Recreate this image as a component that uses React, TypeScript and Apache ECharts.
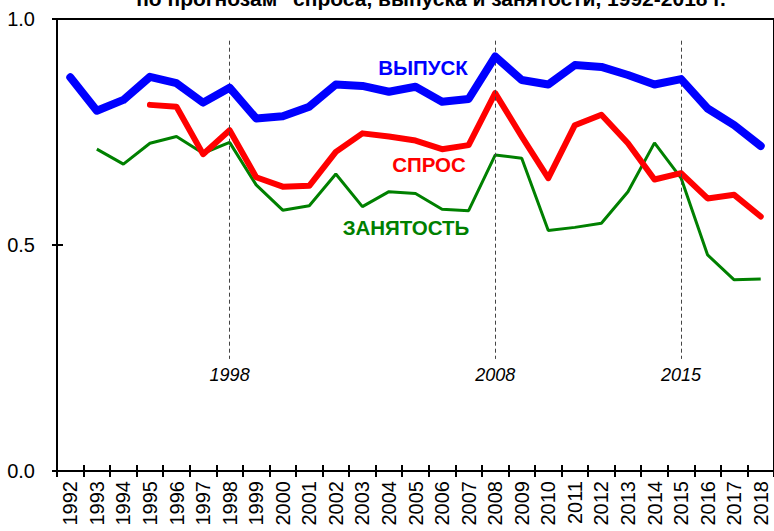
import React, { useEffect, useRef } from "react";
import * as echarts from "echarts";

const years = [
  "1992","1993","1994","1995","1996","1997","1998","1999","2000","2001","2002","2003","2004","2005",
  "2006","2007","2008","2009","2010","2011","2012","2013","2014","2015","2016","2017","2018",
];

const outputSeries = [
  0.871, 0.797, 0.821, 0.872, 0.858, 0.815, 0.848, 0.780, 0.785, 0.806, 0.855, 0.852, 0.839, 0.850,
  0.817, 0.823, 0.917, 0.865, 0.855, 0.898, 0.894, 0.876, 0.855, 0.867, 0.802, 0.765, 0.719,
];

const demandSeries = [
  null, null, null, 0.810, 0.806, 0.701, 0.754, 0.650, 0.629, 0.631, 0.706, 0.747, 0.740, 0.731,
  0.712, 0.721, 0.836, 0.740, 0.648, 0.765, 0.788, 0.725, 0.645, 0.659, 0.603, 0.611, 0.563,
];

const employmentSeries = [
  null, 0.712, 0.679, 0.725, 0.740, 0.703, 0.727, 0.633, 0.577, 0.587, 0.657, 0.585, 0.618, 0.614,
  0.579, 0.576, 0.699, 0.692, 0.532, 0.539, 0.548, 0.618, 0.726, 0.648, 0.478, 0.423, 0.425,
];

const markerYears = ["1998", "2008", "2015"];
const yTicks = [0, 0.5, 1.0];

const titleText = "по прогнозам \"спроса, выпуска и занятости, 1992-2018 г.";
const labelOutput = "ВЫПУСК";
const labelDemand = "СПРОС";
const labelEmployment = "ЗАНЯТОСТЬ";

const FONT = "Arial, 'Liberation Sans', sans-serif";

export default function App() {
  const ref = useRef<HTMLDivElement>(null);
  useEffect(() => {
    if (!ref.current) return;
    const chart = echarts.init(ref.current, null, { renderer: "svg" });
    const markLineData = markerYears.map((y) => [
      { coord: [y, 0.952] },
      { coord: [y, 0.248] },
    ]);
    const markPointData = markerYears.map((y) => ({ coord: [y, 0.213], value: y }));
    chart.setOption({
      animation: false,
      backgroundColor: "#fff",
      textStyle: { fontFamily: FONT },
      grid: {
        left: 57,
        top: 19,
        width: 723,
        height: 452,
        show: true,
        borderColor: "#000",
        borderWidth: 2,
        backgroundColor: "transparent",
      },
      xAxis: [
        {
          type: "category",
          data: years,
          boundaryGap: true,
          axisLine: { lineStyle: { color: "#000", width: 2 } },
          axisTick: { show: true, interval: 0, length: 6, inside: false, lineStyle: { color: "#000", width: 2 } },
          axisLabel: { interval: 0, rotate: 90, fontSize: 20, color: "#000", margin: 10, fontFamily: FONT },
          splitLine: { show: false },
        },
        {
          type: "category",
          data: years,
          position: "bottom",
          boundaryGap: true,
          axisLine: { show: false },
          axisTick: { show: true, interval: 0, length: 6, inside: true, lineStyle: { color: "#000", width: 2 } },
          axisLabel: { show: false },
          splitLine: { show: false },
        },
      ],
      yAxis: [
        {
          type: "value",
          min: 0,
          max: 1,
          interval: 0.5,
          axisLine: { show: true, lineStyle: { color: "#000", width: 2 } },
          axisTick: { show: true, length: 5, inside: false, lineStyle: { color: "#000", width: 2 } },
          axisLabel: {
            fontSize: 20,
            color: "#000",
            margin: 22,
            fontFamily: FONT,
            formatter: (v: number) => (yTicks.includes(v) ? v.toFixed(1) : ""),
          },
          splitLine: { show: false },
        },
        {
          type: "value",
          min: 0,
          max: 1,
          interval: 0.5,
          position: "left",
          axisLine: { show: false },
          axisTick: { show: true, length: 6, inside: true, lineStyle: { color: "#000", width: 2 } },
          axisLabel: { show: false },
          splitLine: { show: false },
        },
      ],
      series: [
        {
          name: labelEmployment,
          type: "line",
          data: employmentSeries,
          showSymbol: false,
          symbol: "none",
          connectNulls: false,
          lineStyle: { color: "#008000", width: 3 },
          z: 3,
          markLine: {
            silent: true,
            symbol: "none",
            label: { show: false },
            lineStyle: { color: "#444", width: 1, type: [4, 3] },
            data: markLineData,
          },
          markPoint: {
            symbol: "circle",
            symbolSize: 0,
            label: {
              show: true,
              position: "inside",
              formatter: (p: any) => p.value,
              fontSize: 18,
              fontStyle: "italic",
              color: "#000",
              fontFamily: FONT,
            },
            data: markPointData,
          },
        },
        {
          name: labelDemand,
          type: "line",
          data: demandSeries,
          showSymbol: false,
          symbol: "none",
          lineStyle: { color: "#ff0000", width: 6, cap: "round", join: "round" },
          z: 4,
        },
        {
          name: labelOutput,
          type: "line",
          data: outputSeries,
          showSymbol: false,
          symbol: "none",
          lineStyle: { color: "#0000ff", width: 8, cap: "round", join: "round" },
          z: 5,
        },
      ],
      graphic: [
        {
          type: "text",
          x: 431,
          y: -2,
          style: {
            text: titleText,
            fontSize: 21,
            fontWeight: "bold",
            fontFamily: FONT,
            fill: "#000",
            textAlign: "center",
            textVerticalAlign: "middle",
          },
        },
        {
          type: "text",
          x: 423,
          y: 67,
          style: {
            text: labelOutput,
            fontSize: 20.5,
            fontWeight: "bold",
            fontFamily: FONT,
            fill: "#0000ff",
            textAlign: "center",
            textVerticalAlign: "middle",
          },
        },
        {
          type: "text",
          x: 429,
          y: 164,
          style: {
            text: labelDemand,
            fontSize: 20.5,
            fontWeight: "bold",
            fontFamily: FONT,
            fill: "#ff0000",
            textAlign: "center",
            textVerticalAlign: "middle",
          },
        },
        {
          type: "text",
          x: 406,
          y: 227,
          style: {
            text: labelEmployment,
            fontSize: 20.5,
            fontWeight: "bold",
            fontFamily: FONT,
            fill: "#008000",
            textAlign: "center",
            textVerticalAlign: "middle",
          },
        },
      ],
    });
    return () => chart.dispose();
  }, []);
  return (
    <div
      ref={ref}
      style={{ position: "fixed", left: 0, top: 0, width: 774, height: 531, background: "#fff" }}
    />
  );
}
